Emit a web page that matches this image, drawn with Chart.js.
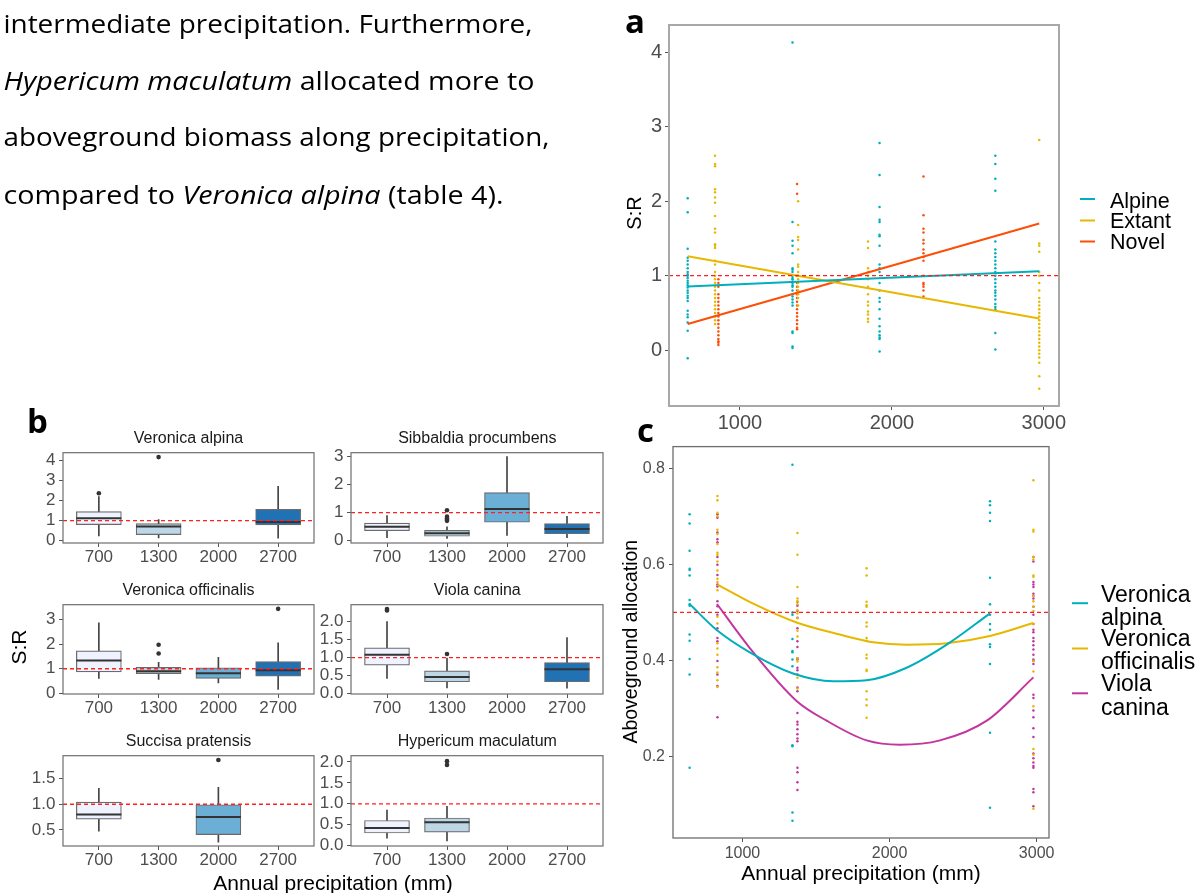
<!DOCTYPE html>
<html>
<head>
<meta charset="utf-8">
<script src="https://cdn.jsdelivr.net/npm/chart.js@4.4.1/dist/chart.umd.min.js"></script>
<style>
  html, body { margin: 0; padding: 0; background: #fff; }
  body { width: 1204px; height: 893px; position: relative; overflow: hidden; }
  canvas { position: absolute; }
  svg { position: absolute; left: 0; top: 0; pointer-events: none; }
  .para { font-family: 'Open Sans', Lato, sans-serif; font-size: 25px; fill: #000; font-variant-ligatures: none; }
  .letter { font-family: 'Open Sans', Lato, sans-serif; font-size: 33px; font-weight: bold; fill: #000; }
  .ax { font-family: 'Liberation Sans', Arial, sans-serif; fill: #000; }
  .ttl { font-family: 'Liberation Sans', Arial, sans-serif; font-size: 16px; fill: #1a1a1a; }
</style>
</head>
<body>
<canvas id="chartA"></canvas>
<canvas id="chartC"></canvas>
<canvas id="bVA"></canvas>
<canvas id="bSP"></canvas>
<canvas id="bVO"></canvas>
<canvas id="bVC"></canvas>
<canvas id="bSU"></canvas>
<canvas id="bHM"></canvas>

<svg width="1204" height="893">
  <text class="para" x="3.5" y="33.3" textLength="529" lengthAdjust="spacingAndGlyphs">intermediate precipitation. Furthermore,</text>
  <text class="para" x="3.5" y="90" textLength="531" lengthAdjust="spacingAndGlyphs"><tspan font-style="italic">Hypericum maculatum</tspan> allocated more to</text>
  <text class="para" x="3.5" y="146" textLength="546" lengthAdjust="spacingAndGlyphs">aboveground biomass along precipitation,</text>
  <text class="para" x="3.5" y="204" textLength="500" lengthAdjust="spacingAndGlyphs">compared to <tspan font-style="italic">Veronica alpina</tspan> (table 4).</text>

  <text class="letter" x="625" y="33">a</text>
  <text class="letter" x="27" y="433">b</text>
  <text class="letter" x="637" y="442">c</text>

  <!-- panel a axis title + legend -->
  <text class="ax" font-size="20" text-anchor="middle" dominant-baseline="central" transform="translate(634,213) rotate(-90)">S:R</text>
  <line x1="1080" x2="1095" y1="199" y2="199" stroke="#00AFBB" stroke-width="2"/>
  <line x1="1080" x2="1095" y1="220.5" y2="220.5" stroke="#E7B800" stroke-width="2"/>
  <line x1="1080" x2="1095" y1="241.5" y2="241.5" stroke="#FC4E07" stroke-width="2"/>
  <text class="ax" font-size="21.5" x="1110" y="200.5" dominant-baseline="central">Alpine</text>
  <text class="ax" font-size="21.5" x="1110" y="221.3" dominant-baseline="central">Extant</text>
  <text class="ax" font-size="21.5" x="1110" y="241.8" dominant-baseline="central">Novel</text>

  <!-- panel c axis titles + legend -->
  <text class="ax" font-size="19.5" text-anchor="middle" dominant-baseline="central" transform="translate(630,641.7) rotate(-90)">Aboveground allocation</text>
  <text class="ax" font-size="21" text-anchor="middle" dominant-baseline="central" x="861" y="872.7">Annual precipitation (mm)</text>
  <line x1="1072" x2="1088" y1="603.2" y2="603.2" stroke="#00AFBB" stroke-width="2"/>
  <line x1="1072" x2="1088" y1="648.5" y2="648.5" stroke="#E7B800" stroke-width="2"/>
  <line x1="1072" x2="1088" y1="693.3" y2="693.3" stroke="#C2379F" stroke-width="2"/>
  <text class="ax" font-size="23" x="1101" y="593.5" dominant-baseline="central">Veronica</text>
  <text class="ax" font-size="23" x="1101" y="616.9" dominant-baseline="central">alpina</text>
  <text class="ax" font-size="23" x="1101" y="638.4" dominant-baseline="central">Veronica</text>
  <text class="ax" font-size="23" x="1101" y="661" dominant-baseline="central">officinalis</text>
  <text class="ax" font-size="23" x="1101" y="683.3" dominant-baseline="central">Viola</text>
  <text class="ax" font-size="23" x="1101" y="706.6" dominant-baseline="central">canina</text>

  <!-- panel b titles + shared axis titles -->
  <text class="ttl" text-anchor="middle" dominant-baseline="central" x="188.5" y="437.3">Veronica alpina</text>
  <text class="ttl" text-anchor="middle" dominant-baseline="central" x="477.3" y="437.3">Sibbaldia procumbens</text>
  <text class="ttl" text-anchor="middle" dominant-baseline="central" x="188.5" y="589">Veronica officinalis</text>
  <text class="ttl" text-anchor="middle" dominant-baseline="central" x="477.3" y="589">Viola canina</text>
  <text class="ttl" text-anchor="middle" dominant-baseline="central" x="188.5" y="740.3">Succisa pratensis</text>
  <text class="ttl" text-anchor="middle" dominant-baseline="central" x="477.3" y="740.3">Hypericum maculatum</text>
  <text class="ax" font-size="21" text-anchor="middle" dominant-baseline="central" transform="translate(18,647) rotate(-90)">S:R</text>
  <text class="ax" font-size="21" text-anchor="middle" dominant-baseline="central" x="333" y="882.7">Annual precipitation (mm)</text>
</svg>

<script>
'use strict';

// ---------- panel a : S:R per site ----------
const precipTicks = [1000, 2000, 3000];
const srTicks = [0, 1, 2, 3, 4];

const alpineSites = [656, 1346, 1919, 2681];
const alpineSR = [
  [2.04, 1.85, 1.36, 1.24, 1.2, 1.15, 1.1, 1.05, 1.02, 1.0, 0.97, 0.93, 0.9, 0.87, 0.84, 0.8, 0.77, 0.73, 0.7, 0.66, 0.53, 0.48, 0.44, 0.37, 0.26, -0.11],
  [4.13, 1.72, 1.47, 1.4, 1.3, 1.1, 1.08, 1.05, 1.0, 0.97, 0.95, 0.92, 0.9, 0.87, 0.85, 0.8, 0.75, 0.72, 0.68, 0.64, 0.6, 0.25, 0.23, 0.05, 0.03],
  [2.78, 2.35, 1.92, 1.75, 1.72, 1.55, 1.53, 1.4, 1.15, 1.1, 1.05, 0.9, 0.8, 0.7, 0.65, 0.55, 0.42, 0.32, 0.25, 0.2, 0.17, 0.15, -0.02],
  [2.61, 2.5, 2.3, 2.14, 1.46, 1.35, 1.3, 1.25, 1.2, 1.15, 1.1, 1.05, 1.0, 0.95, 0.9, 0.85, 0.8, 0.77, 0.73, 0.68, 0.62, 0.58, 0.55, 0.23, 0.01]
];
const extantSites = [836, 1383, 1843, 2970];
const extantSR = [
  [2.61, 2.5, 2.47, 2.16, 2.12, 2.05, 1.98, 1.8, 1.63, 1.58, 1.42, 1.4, 1.37, 1.2, 1.15, 1.05, 1.0, 0.95, 0.9, 0.85, 0.8, 0.75, 0.7, 0.65, 0.6, 0.55, 0.5, 0.45, 0.4, 0.35],
  [2.0, 1.68, 1.52, 1.48, 1.35, 1.15, 1.12, 1.05, 1.0, 0.95, 0.9, 0.85, 0.8, 0.75, 0.7, 0.6],
  [1.46, 1.37, 1.1, 1.05, 1.0, 0.95, 0.85, 0.75, 0.65, 0.6, 0.52, 0.48, 0.42, 0.38],
  [2.82, 1.43, 1.4, 1.32, 1.05, 1.0, 0.9, 0.8, 0.7, 0.65, 0.6, 0.55, 0.5, 0.45, 0.4, 0.35, 0.3, 0.25, 0.2, 0.15, 0.1, 0.05, 0.0, -0.05, -0.1, -0.17, -0.35, -0.52]
];
const novelSites = [858, 1376, 2208];
const novelSR = [
  [0.95, 0.9, 0.85, 0.75, 0.7, 0.65, 0.6, 0.55, 0.5, 0.45, 0.4, 0.35, 0.3, 0.25, 0.2, 0.15, 0.12, 0.1, 0.07],
  [2.23, 2.1, 1.0, 0.9, 0.85, 0.8, 0.75, 0.7, 0.65, 0.6, 0.55, 0.5, 0.45, 0.4, 0.35, 0.3, 0.28],
  [2.33, 1.81, 1.63, 1.58, 1.48, 1.43, 1.35, 1.3, 1.25, 1.2, 1.0, 0.9, 0.88, 0.85, 0.8, 0.72]
];
const fitX = [656, 2970];
const alpineFit = [0.855, 1.06];
const extantFit = [1.26, 0.425];
const novelFit = [0.35, 1.70];

// ---------- panel c : aboveground allocation ----------
const allocTicks = [0.2, 0.4, 0.6, 0.8];
const alpinaSites = [641, 1340, 2683];
const alpinaAlloc = [
  [0.704, 0.685, 0.628, 0.591, 0.588, 0.577, 0.526, 0.517, 0.514, 0.454, 0.441, 0.403, 0.371, 0.177],
  [0.807, 0.5, 0.495, 0.445, 0.42, 0.417, 0.402, 0.388, 0.224, 0.222, 0.084, 0.067],
  [0.731, 0.723, 0.707, 0.69, 0.572, 0.517, 0.495, 0.476, 0.464, 0.434, 0.428, 0.393, 0.25, 0.094]
];
const officinalisSites = [830, 1374, 1844, 2978];
const officinalisAlloc = [
  [0.742, 0.733, 0.707, 0.7, 0.672, 0.663, 0.642, 0.624, 0.62, 0.606, 0.587, 0.57, 0.563, 0.546, 0.491, 0.477, 0.436, 0.425, 0.412, 0.386, 0.375, 0.359, 0.345],
  [0.665, 0.62, 0.553, 0.529, 0.523, 0.517, 0.505, 0.498, 0.488, 0.462, 0.45, 0.404, 0.398, 0.364, 0.342],
  [0.592, 0.577, 0.522, 0.515, 0.512, 0.479, 0.471, 0.447, 0.441, 0.412, 0.405, 0.381, 0.378, 0.336, 0.319, 0.307, 0.281],
  [0.775, 0.672, 0.668, 0.615, 0.61, 0.577, 0.574, 0.534, 0.523, 0.512, 0.503, 0.476, 0.399, 0.377, 0.305, 0.216, 0.204, 0.092]
];
const caninaSites = [830, 1374, 2978];
const caninaAlloc = [
  [0.704, 0.697, 0.666, 0.652, 0.646, 0.615, 0.599, 0.578, 0.558, 0.554, 0.523, 0.513, 0.495, 0.467, 0.447, 0.44, 0.399, 0.371, 0.347, 0.282],
  [0.522, 0.514, 0.503, 0.489, 0.467, 0.44, 0.428, 0.405, 0.402, 0.385, 0.38, 0.371, 0.344, 0.336, 0.291, 0.273, 0.267, 0.257, 0.247, 0.238, 0.232, 0.177, 0.168, 0.147, 0.131],
  [0.615, 0.606, 0.563, 0.558, 0.553, 0.539, 0.534, 0.529, 0.512, 0.495, 0.476, 0.464, 0.459, 0.447, 0.44, 0.432, 0.423, 0.412, 0.402, 0.399, 0.393, 0.329, 0.322, 0.296, 0.282, 0.259, 0.241, 0.207, 0.197, 0.188, 0.181, 0.177, 0.133, 0.126, 0.097]
];
const alpinaCurveX = [641, 823, 1050, 1344, 1617, 1844, 2116, 2389, 2683];
const alpinaCurveY = [0.5175, 0.464, 0.417, 0.373, 0.357, 0.359, 0.385, 0.433, 0.498];
const officinalisCurveX = [830, 1095, 1368, 1662, 1889, 2116, 2389, 2683, 2978];
const officinalisCurveY = [0.558, 0.515, 0.479, 0.454, 0.438, 0.433, 0.436, 0.451, 0.478];
const caninaCurveX = [827, 1050, 1368, 1572, 1844, 2071, 2343, 2661, 2978];
const caninaCurveY = [0.5175, 0.426, 0.316, 0.275, 0.234, 0.225, 0.234, 0.275, 0.365];

// ---------- panel b : boxplots [low, q1, median, q3, high] ----------
const precipCats = ['700', '1300', '2000', '2700'];
const veronicaAlpinaBox = [[0.24, 0.80, 1.12, 1.45, 2.2], [0.13, 0.30, 0.71, 0.85, 1.05], null, [0.12, 0.78, 0.93, 1.56, 2.72]];
const veronicaAlpinaOut = [['700', 2.37], ['1300', 4.18]];
const sibbaldiaBox = [[0.11, 0.36, 0.50, 0.63, 0.90], [0.08, 0.16, 0.27, 0.37, 0.50], [0.19, 0.66, 1.13, 1.72, 3.0], [0.11, 0.25, 0.42, 0.61, 0.87]];
const sibbaldiaOut = [['1300', 1.09], ['1300', 0.86], ['1300', 0.79], ['1300', 0.75], ['1300', 0.71]];
const veronicaOffBox = [[0.61, 0.87, 1.34, 1.73, 2.87], [0.56, 0.80, 0.90, 1.06, 1.26], [0.42, 0.61, 0.82, 1.04, 1.46], [0.16, 0.70, 0.94, 1.29, 2.06]];
const veronicaOffOut = [['1300', 1.98], ['1300', 1.62], ['2700', 3.44]];
const violaBox = [[0.42, 0.79, 1.08, 1.27, 2.0], [0.16, 0.33, 0.46, 0.63, 0.99], null, [0.15, 0.33, 0.68, 0.86, 1.56]];
const violaOut = [['700', 2.35], ['700', 2.31], ['1300', 1.10]];
const succisaBox = [[0.475, 0.71, 0.80, 1.04, 1.31], null, [0.26, 0.41, 0.75, 0.99, 1.33], null];
const succisaOut = [['2000', 1.86]];
const hypericumBox = [[0.18, 0.30, 0.42, 0.60, 0.85], [0.11, 0.32, 0.56, 0.66, 0.94], null, null];
const hypericumOut = [['1300', 2.02], ['1300', 1.93]];

// ---------- helpers ----------
Chart.defaults.font.family = "'Liberation Sans', Arial, sans-serif";
Chart.defaults.animation = false;
Chart.defaults.responsive = false;
Chart.defaults.plugins.legend.display = false;
Chart.defaults.plugins.tooltip.enabled = false;

const PAD = 10;

const framePlugin = {
  id: 'frame',
  afterDraw(chart, args, opts) {
    const {ctx, chartArea: a} = chart;
    ctx.save();
    ctx.strokeStyle = opts.color;
    ctx.lineWidth = opts.width;
    ctx.strokeRect(a.left, a.top, a.right - a.left, a.bottom - a.top);
    ctx.restore();
  }
};

function place(id, area, yw, xh) {
  const c = document.getElementById(id);
  const w = area.r - area.l + yw + PAD;
  const h = area.b - area.t + PAD + xh;
  c.width = w; c.height = h;
  c.style.width = w + 'px'; c.style.height = h + 'px';
  c.style.left = (area.l - yw) + 'px';
  c.style.top = (area.t - PAD) + 'px';
  return c;
}

function axis(opts) {
  return {
    type: 'linear',
    min: opts.min, max: opts.max,
    offset: false,
    grid: {drawOnChartArea: false, drawTicks: true, tickLength: 4, color: '#555', lineWidth: 1, offset: false},
    border: {display: false},
    ticks: {
      font: {size: opts.size}, color: '#4d4d4d', padding: opts.pad,
      maxRotation: 0, autoSkip: false,
      callback: opts.fmt
    },
    afterBuildTicks: (s) => { s.ticks = opts.ticks.map(v => ({value: v})); },
    afterFit: (s) => {
      if (opts.w !== undefined) s.width = opts.w;
      if (opts.h !== undefined) s.height = opts.h;
    }
  };
}

function colPoints(sites, vals) {
  const pts = [];
  sites.forEach((s, i) => vals[i].forEach(v => pts.push({x: s, y: v})));
  return pts;
}

function dots(sites, vals, color) {
  return {type: 'scatter', data: colPoints(sites, vals), pointRadius: 1.25,
    pointBackgroundColor: color, pointBorderWidth: 0, order: 3};
}

function refLine(x0, x1, y) {
  return {type: 'line', data: [{x: x0, y}, {x: x1, y}], borderColor: '#ff2020',
    borderWidth: 1.3, borderDash: [4, 3], pointRadius: 0, order: 0};
}

// ---------- panel a ----------
const areaA = {l: 669, r: 1059, t: 20, b: 406};
const xMinA = 533, xMaxA = 3100;
place('chartA', areaA, 49, 36);
new Chart(document.getElementById('chartA'), {
  type: 'scatter',
  data: {
    datasets: [
      refLine(xMinA, xMaxA, 1),
      {type: 'line', data: fitX.map((x, i) => ({x, y: alpineFit[i]})), borderColor: '#00AFBB', borderWidth: 2, pointRadius: 0, order: 1},
      {type: 'line', data: fitX.map((x, i) => ({x, y: extantFit[i]})), borderColor: '#E7B800', borderWidth: 2, pointRadius: 0, order: 1},
      {type: 'line', data: fitX.map((x, i) => ({x, y: novelFit[i]})), borderColor: '#FC4E07', borderWidth: 2, pointRadius: 0, order: 1},
      dots(alpineSites, alpineSR, '#00AFBB'),
      dots(extantSites, extantSR, '#E7B800'),
      dots(novelSites, novelSR, '#FC4E07')
    ]
  },
  options: {
    layout: {padding: {top: PAD, right: PAD, left: 0, bottom: 0}, autoPadding: false},
    scales: {
      x: axis({min: xMinA, max: xMaxA, ticks: precipTicks, size: 20, pad: 1, fmt: v => String(v), h: 36}),
      y: axis({min: -0.75, max: 4.365, ticks: srTicks, size: 20, pad: 3, fmt: v => String(v), w: 49})
    },
    plugins: {frame: {color: '#a8a8a8', width: 2}}
  },
  plugins: [framePlugin]
});

// ---------- panel c ----------
const areaC = {l: 673, r: 1049, t: 443, b: 838};
const xMinC = 528, xMaxC = 3084;
place('chartC', areaC, 45, 30);
function curve(xs, ys, color) {
  return {type: 'line', data: xs.map((x, i) => ({x, y: ys[i]})), borderColor: color, borderWidth: 2,
    pointRadius: 0, cubicInterpolationMode: 'monotone', order: 1};
}
new Chart(document.getElementById('chartC'), {
  type: 'scatter',
  data: {
    datasets: [
      refLine(xMinC, xMaxC, 0.5),
      curve(alpinaCurveX, alpinaCurveY, '#00AFBB'),
      curve(officinalisCurveX, officinalisCurveY, '#E7B800'),
      curve(caninaCurveX, caninaCurveY, '#C2379F'),
      dots(alpinaSites, alpinaAlloc, '#00AFBB'),
      dots(officinalisSites, officinalisAlloc, '#E7B800'),
      dots(caninaSites, caninaAlloc, '#C2379F')
    ]
  },
  options: {
    layout: {padding: {top: PAD, right: PAD, left: 0, bottom: 0}, autoPadding: false},
    scales: {
      x: axis({min: xMinC, max: xMaxC, ticks: precipTicks, size: 16, pad: 1.5, fmt: v => String(v), h: 30}),
      y: axis({min: 0.0311, max: 0.8447, ticks: allocTicks, size: 16, pad: 4, fmt: v => v.toFixed(1), w: 45})
    },
    plugins: {frame: {color: '#6e6e6e', width: 1.3}}
  },
  plugins: [framePlugin]
});

// ---------- panel b ----------
const boxFills = ['#EFF3FF', '#BDD7E7', '#6BAED6', '#2171B5'];

function boxChart(id, area, rows, outliers, ticks, dec, yMin, yMax) {
  place(id, area, 45, 30);
  const whisk = [], box = [], boxCol = [], med = [];
  rows.forEach((r, i) => {
    if (!r) return;
    whisk.push({x: i + 1, y: [r[0], r[4]]});
    box.push({x: i + 1, y: [r[1], r[3]]});
    boxCol.push(boxFills[i]);
    med.push({x: i + 1, y: r[2]});
  });
  const outs = outliers.map(o => ({x: precipCats.indexOf(o[0]) + 1, y: o[1]}));
  new Chart(document.getElementById(id), {
    type: 'bar',
    data: {
      datasets: [
        refLine(0.4, 4.6, 1),
        {type: 'line', data: outs, showLine: false, pointRadius: 2.3,
          pointBackgroundColor: '#333', pointBorderWidth: 0, order: 1},
        {type: 'line', data: med, showLine: false, pointStyle: 'line', pointRadius: 22.5,
          pointBorderColor: '#333', pointBorderWidth: 2, order: 2},
        {type: 'bar', data: box, backgroundColor: boxCol, borderColor: '#6b6b6b', borderWidth: 1.2,
          borderSkipped: false, barThickness: 45, grouped: false, order: 3},
        {type: 'bar', data: whisk, backgroundColor: '#444', barThickness: 1, grouped: false, order: 4}
      ]
    },
    options: {
      layout: {padding: {top: PAD, right: PAD, left: 0, bottom: 0}, autoPadding: false},
      scales: {
        x: axis({min: 0.4, max: 4.6, ticks: [1, 2, 3, 4], size: 17, pad: 0, fmt: v => precipCats[v - 1], h: 30}),
        y: axis({min: yMin, max: yMax, ticks: ticks, size: 17, pad: 3.5, fmt: v => v.toFixed(dec), w: 45})
      },
      plugins: {frame: {color: '#6e6e6e', width: 1.2}}
    },
    plugins: [framePlugin]
  });
}

const leftCol = {l: 63, r: 314};
const rightCol = {l: 351, r: 603};
const rows = [{t: 449, b: 543}, {t: 601, b: 694}, {t: 752, b: 846}];

boxChart('bVA', {...leftCol, ...rows[0]}, veronicaAlpinaBox, veronicaAlpinaOut, [0, 1, 2, 3, 4], 0, -0.12, 4.4);
boxChart('bSP', {...rightCol, ...rows[0]}, sibbaldiaBox, sibbaldiaOut, [0, 1, 2, 3], 0, -0.08, 3.14);
boxChart('bVO', {...leftCol, ...rows[1]}, veronicaOffBox, veronicaOffOut, [0, 1, 2, 3], 0, -0.03, 3.61);
boxChart('bVC', {...rightCol, ...rows[1]}, violaBox, violaOut, [0, 0.5, 1, 1.5, 2], 1, -0.01, 2.47);
boxChart('bSU', {...leftCol, ...rows[2]}, succisaBox, succisaOut, [0.5, 1.0, 1.5], 1, 0.187, 1.945);
boxChart('bHM', {...rightCol, ...rows[2]}, hypericumBox, hypericumOut, [0, 0.5, 1, 1.5, 2], 1, -0.01, 2.15);
</script>
</body>
</html>
